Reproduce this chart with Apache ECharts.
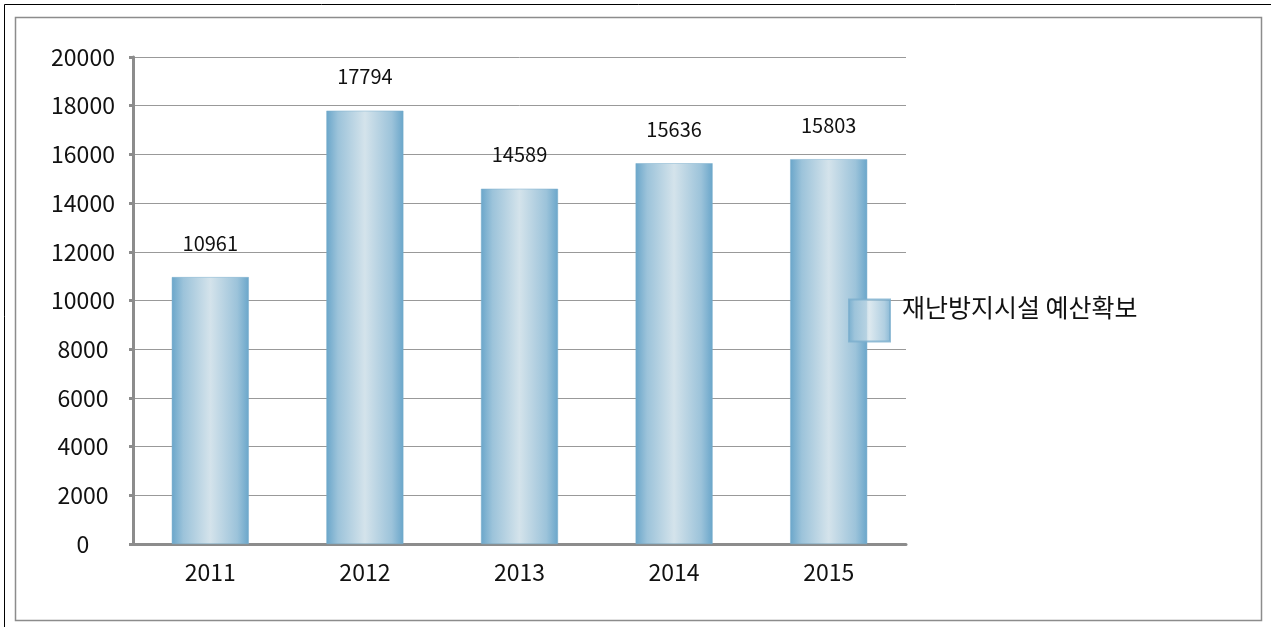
<!DOCTYPE html>
<html>
<head>
<meta charset="utf-8">
<style>
html,body{margin:0;padding:0;background:#fff;}
#chart{width:1271px;height:627px;}
</style>
<script src="https://cdn.jsdelivr.net/npm/echarts@6/dist/echarts.min.js"></script>
</head>
<body>
<div id="chart"></div>
<script>
const categories = ['2011', '2012', '2013', '2014', '2015'];
const seriesName = '재난방지시설 예산확보';
const values = [10961, 17794, 14589, 15636, 15803];
const yTicks = [0, 2000, 4000, 6000, 8000, 10000, 12000, 14000, 16000, 18000, 20000];

const FONT = '"Noto Sans CJK KR", "Noto Sans", sans-serif';
const barGradient = new echarts.graphic.LinearGradient(0, 0, 1, 0, [
  { offset: 0, color: '#6aa6ca' },
  { offset: 0.15, color: '#9cc3da' },
  { offset: 0.5, color: '#d4e3eb' },
  { offset: 0.85, color: '#9cc3da' },
  { offset: 1, color: '#6aa6ca' }
]);

const chart = echarts.init(document.getElementById('chart'));
chart.setOption({
  animation: false,
  backgroundColor: '#ffffff',
  graphic: [
    { type: 'rect', shape: { x: 4.5, y: 4.5, width: 1300, height: 700 }, style: { fill: 'none', stroke: '#000', lineWidth: 1 }, silent: true },
    { type: 'rect', shape: { x: 15.5, y: 17.5, width: 1246, height: 603 }, style: { fill: 'none', stroke: '#8c8c8c', lineWidth: 1.5 }, silent: true }
  ],
  grid: { left: 133, right: 365, top: 57, bottom: 83 },
  legend: {
    data: [seriesName],
    left: 848,
    top: 295,
    padding: 0,
    orient: 'vertical',
    icon: 'rect',
    itemWidth: 41,
    itemHeight: 42,
    formatter: function (name) { return '{a|' + name + '}'; },
    textStyle: {
      fontFamily: FONT, fontSize: 25, color: '#000',
      rich: { a: { fontFamily: FONT, fontSize: 25, color: '#111', padding: [0, 0, 26, 7] } }
    },
    itemStyle: { opacity: 0.8 }
  },
  xAxis: {
    type: 'category',
    data: categories,
    axisLine: { lineStyle: { color: '#8c8c8c', width: 3 } },
    axisTick: { show: false },
    axisLabel: { fontFamily: FONT, fontSize: 23, color: '#111', margin: 17 }
  },
  yAxis: {
    type: 'value',
    min: yTicks[0],
    max: yTicks[yTicks.length - 1],
    interval: yTicks[1] - yTicks[0],
    axisLine: { show: true, lineStyle: { color: '#8c8c8c', width: 3 } },
    axisTick: { show: true, length: 4, lineStyle: { color: '#8c8c8c', width: 3 } },
    splitLine: { lineStyle: { color: '#999', width: 1 } },
    axisLabel: {
      fontFamily: FONT, fontSize: 23, color: '#111', align: 'center', margin: 50,
      formatter: function (v) { return String(v); }
    }
  },
  series: [{
    name: seriesName,
    type: 'bar',
    data: values,
    barWidth: 77,
    itemStyle: { color: barGradient, borderColor: '#7aaecd', borderWidth: 0.5 },
    label: { show: true, position: 'top', distance: 24, fontFamily: FONT, fontSize: 20, color: '#111' }
  }]
});
</script>
</body>
</html>
